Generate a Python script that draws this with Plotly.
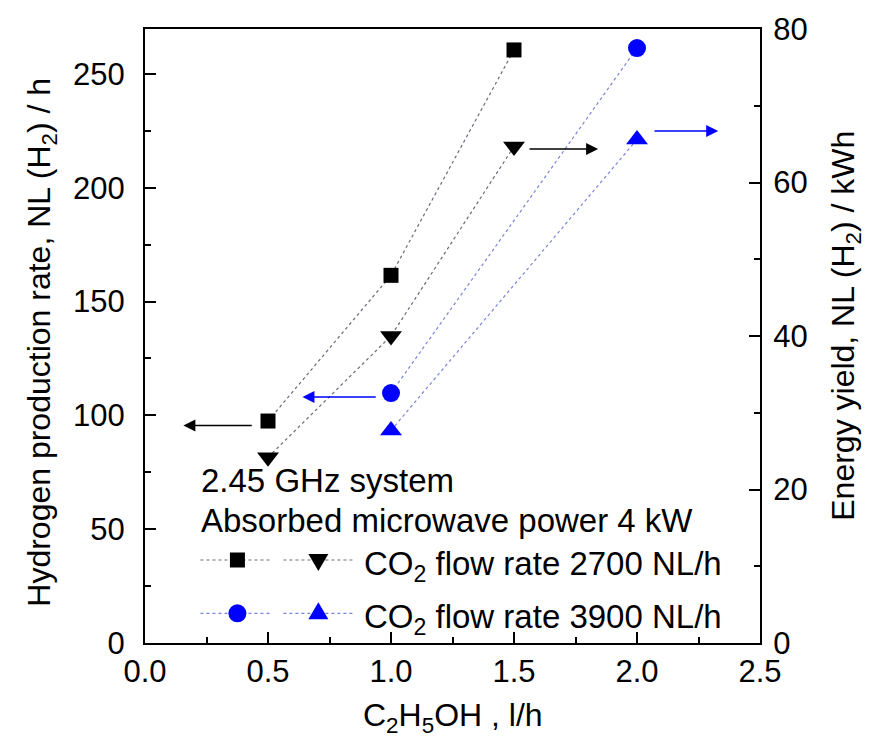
import plotly.graph_objects as go

# ---------------- data ----------------
x_sq = [0.5, 1.0, 1.5]            # CO2 2700 NL/h, H2 production rate (left axis)
y_sq = [97.5, 161.5, 260.5]
x_dn = [0.5, 1.0, 1.5]            # CO2 2700 NL/h, energy yield (right axis)
y_dn = [24.2, 40.0, 64.7]
x_ci = [1.0, 2.0]                 # CO2 3900 NL/h, H2 production rate (left axis)
y_ci = [109.8, 261.3]
x_up = [1.0, 2.0]                 # CO2 3900 NL/h, energy yield (right axis)
y_up = [27.7, 65.6]

left_range = [0, 269.7]
right_range = [0, 80]
x_range = [0, 2.5]

W, H = 873, 747
L, R, T, B = 144.5, 113, 21.6, 104
PW = W - L - R
PH = H - T - B

BLACK_LINE = "#6a6a7a"
BLUE_LINE = "#7a84d8"
BLUE = "#0000ff"
FONT = "Liberation Sans, Arial, sans-serif"


def px(xp):
    return (xp - L) / PW


def py(yp):
    return (H - B - yp) / PH


fig = go.Figure()
fig.add_trace(go.Scatter(x=x_sq, y=y_sq, mode="lines+markers",
                         line=dict(color=BLACK_LINE, width=1.2, dash="dot"),
                         marker=dict(symbol="square", size=15, color="black"),
                         showlegend=False))
fig.add_trace(go.Scatter(x=x_ci, y=y_ci, mode="lines+markers",
                         line=dict(color=BLUE_LINE, width=1.2, dash="dot"),
                         marker=dict(symbol="circle", size=18, color=BLUE),
                         showlegend=False))
fig.add_trace(go.Scatter(x=x_dn, y=y_dn, yaxis="y2", mode="lines+markers",
                         line=dict(color=BLACK_LINE, width=1.2, dash="dot"),
                         marker=dict(symbol="triangle-down", size=19, color="black"),
                         showlegend=False))
fig.add_trace(go.Scatter(x=x_up, y=y_up, yaxis="y2", mode="lines+markers",
                         line=dict(color=BLUE_LINE, width=1.2, dash="dot"),
                         marker=dict(symbol="triangle-up", size=19, color=BLUE),
                         showlegend=False))

tickfont = dict(family=FONT, size=31, color="black")
common = dict(showline=True, linecolor="black", linewidth=2, ticks="inside",
              ticklen=11, tickwidth=2, tickcolor="black", showgrid=False,
              zeroline=False, tickfont=tickfont)

fig.update_layout(
    width=W, height=H,
    margin=dict(l=L, r=R, t=T, b=B),
    plot_bgcolor="white", paper_bgcolor="white",
    showlegend=False,
    xaxis=dict(range=x_range, dtick=0.5, tickformat=".1f", mirror=True,
               minor=dict(dtick=0.25, ticks="inside", ticklen=6, tickwidth=2,
                          tickcolor="black"), **common),
    yaxis=dict(range=left_range, dtick=50, ticklabelstandoff=12,
               minor=dict(dtick=25, ticks="inside", ticklen=6, tickwidth=2,
                          tickcolor="black"), **common),
    yaxis2=dict(range=right_range, dtick=20, overlaying="y", side="right",
                ticklabelstandoff=5,
                minor=dict(dtick=10, ticks="inside", ticklen=6, tickwidth=2,
                           tickcolor="black"), **common),
)

# axis titles
tfont = dict(family=FONT, size=32, color="black")
annos = [
    dict(text="C<sub>2</sub>H<sub>5</sub>OH , l/h", x=0.5, y=py(718),
         xref="paper", yref="paper", showarrow=False, font=tfont,
         xanchor="center", yanchor="middle"),
    dict(text="Hydrogen production rate, NL (H<sub>2</sub>) / h", x=px(41), y=0.49,
         xref="paper", yref="paper", showarrow=False, font=tfont, textangle=-90,
         xanchor="center", yanchor="middle"),
    dict(text="Energy yield, NL (H<sub>2</sub>) / kWh", x=px(846), y=py(322),
         xref="paper", yref="paper", showarrow=False, font=tfont, textangle=-90,
         xanchor="center", yanchor="middle"),
]

# arrows pointing to the relevant axis
arrow = dict(showarrow=True, text="", arrowhead=2, arrowsize=1.6, arrowwidth=1.5)
annos += [
    dict(x=0.156, y=95.5, ax=0.44, ay=95.5, xref="x", yref="y", axref="x", ayref="y",
         arrowcolor="black", **arrow),
    dict(x=1.842, y=64.35, ax=1.557, ay=64.35, xref="x", yref="y2", axref="x", ayref="y2",
         arrowcolor="black", **arrow),
    dict(x=0.64, y=108.1, ax=0.944, ay=108.1, xref="x", yref="y", axref="x", ayref="y",
         arrowcolor=BLUE, **arrow),
    dict(x=2.33, y=66.7, ax=2.065, ay=66.7, xref="x", yref="y2", axref="x", ayref="y2",
         arrowcolor=BLUE, **arrow),
]

# legend block
lfont = dict(family=FONT, size=33, color="black")
annos += [
    dict(text="2.45 GHz system", x=px(199), y=py(479), xref="paper", yref="paper",
         showarrow=False, font=lfont, xanchor="left", yanchor="middle"),
    dict(text="Absorbed microwave power 4 kW", x=px(199), y=py(519), xref="paper",
         yref="paper", showarrow=False, font=lfont, xanchor="left", yanchor="middle"),
    dict(text="CO<sub>2</sub> flow rate 2700 NL/h", x=px(362), y=py(559), yshift=-6,
         xref="paper", yref="paper", showarrow=False, font=lfont, xanchor="left",
         yanchor="middle"),
    dict(text="CO<sub>2</sub> flow rate 3900 NL/h", x=px(362), y=py(613), yshift=-6,
         xref="paper", yref="paper", showarrow=False, font=lfont, xanchor="left",
         yanchor="middle"),
]
fig.update_layout(annotations=annos)

shapes = []
for row_y, col, lcol in [(559, "black", BLACK_LINE), (613, BLUE, BLUE_LINE)]:
    for x0, x1 in [(200, 272), (283, 353)]:
        shapes.append(dict(type="line", xref="paper", yref="paper",
                           x0=px(x0), x1=px(x1), y0=py(row_y), y1=py(row_y),
                           line=dict(color=lcol, width=1.2, dash="dot")))
# square
shapes.append(dict(type="rect", xref="paper", yref="paper", xsizemode="pixel",
                   ysizemode="pixel", xanchor=px(237), yanchor=py(559),
                   x0=-7.5, x1=7.5, y0=-7.5, y1=7.5,
                   fillcolor="black", line=dict(width=0)))
# down triangle
shapes.append(dict(type="path", xref="paper", yref="paper", xsizemode="pixel",
                   ysizemode="pixel", xanchor=px(318), yanchor=py(559),
                   path="M -10 6 L 10 6 L 0 -11 Z",
                   fillcolor="black", line=dict(width=0)))
# circle
shapes.append(dict(type="circle", xref="paper", yref="paper", xsizemode="pixel",
                   ysizemode="pixel", xanchor=px(237), yanchor=py(613),
                   x0=-9, x1=9, y0=-9, y1=9,
                   fillcolor=BLUE, line=dict(width=0)))
# up triangle
shapes.append(dict(type="path", xref="paper", yref="paper", xsizemode="pixel",
                   ysizemode="pixel", xanchor=px(318), yanchor=py(613),
                   path="M -10 -6 L 10 -6 L 0 11 Z",
                   fillcolor=BLUE, line=dict(width=0)))
fig.update_layout(shapes=shapes)

fig.write_html("out.html")
